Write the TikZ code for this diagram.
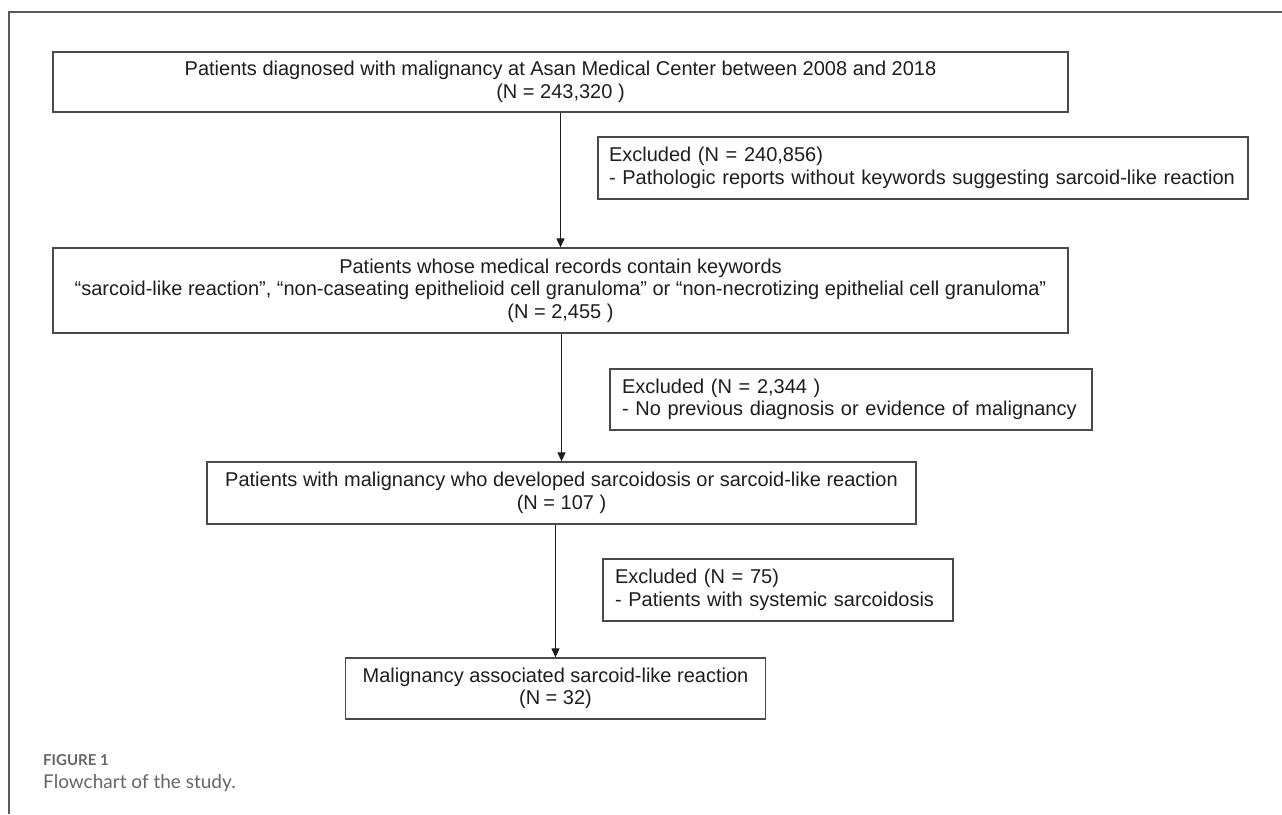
\documentclass[tikz,border=0pt]{standalone}
\usepackage{fontspec}
\setmainfont{Liberation Sans}
\newfontfamily\capfont{Lato}
\usetikzlibrary{arrows.meta}
\definecolor{boxline}{HTML}{4A4A4A}
\definecolor{txt}{HTML}{1E1E1E}
\definecolor{framec}{HTML}{5A5A5A}
\definecolor{capc}{HTML}{666666}
\begin{document}
\begin{tikzpicture}[x=1pt,y=-1pt,
  every node/.style={text=txt},
  mainbox/.style={draw=boxline, line width=1.3pt, inner sep=0pt, align=center,
    font=\fontsize{20}{22.5}\selectfont},
  exclbox/.style={draw=boxline, line width=1.3pt, inner sep=0pt, align=left,
    font=\fontsize{20}{22.5}\selectfont},
  flowarrow/.style={draw=txt, line width=1.1pt, -{Triangle[length=9pt,width=8pt]}}]
\useasboundingbox (0,0) rectangle (1282,814);
\fill[white] (0,0) rectangle (1282,814);
% outer frame
\draw[framec, line width=1.5pt] (1282,12) -- (9,12) -- (9,814);
% main boxes
\node[mainbox, minimum width=1015pt, minimum height=60pt] (b1) at (560.5,82)
  {Patients diagnosed with malignancy at Asan Medical Center between 2008 and 2018\\(N = 243,320 )};
\node[mainbox, minimum width=1015pt, minimum height=85pt] (b2) at (560.5,290.5)
  {Patients whose medical records contain keywords\\“sarcoid-like reaction”, “non-caseating epithelioid cell granuloma” or “non-necrotizing epithelial cell granuloma”\\(N = 2,455 )};
\node[mainbox, minimum width=709pt, minimum height=62pt] (b3) at (561.5,493)
  {Patients with malignancy who developed sarcoidosis or sarcoid-like reaction\\(N = 107 )};
\node[mainbox, minimum width=420pt, minimum height=61pt] (b4) at (555.5,688.5)
  {Malignancy associated sarcoid-like reaction\\(N = 32)};
% exclusion boxes
\node[exclbox, minimum width=650pt, minimum height=62pt, text width=628pt, inner xsep=11pt] (e1) at (923,168)
  {Excluded (N = 240,856)\\- Pathologic reports without keywords suggesting sarcoid-like reaction};
\node[exclbox, minimum width=482pt, minimum height=61pt, text width=458pt, inner xsep=12pt] (e2) at (851,399.5)
  {Excluded (N = 2,344 )\\- No previous diagnosis or evidence of malignancy};
\node[exclbox, minimum width=350pt, minimum height=62pt, text width=326pt, inner xsep=12pt] (e3) at (778,590)
  {Excluded (N = 75)\\- Patients with systemic sarcoidosis};
% arrows
\draw[flowarrow] (b1.south) -- (b2.north);
\draw[flowarrow] (b2.south -| b3.north) -- (b3.north);
\draw[flowarrow] (b3.south -| b4.north) -- (b4.north);
% caption
\node[anchor=west, text=capc, font=\capfont\bfseries\fontsize{15}{18}\selectfont, inner sep=0pt] (fig) at (43,760) {FIGURE 1};
\node[anchor=west, text=capc, font=\capfont\fontsize{19}{22}\selectfont, inner sep=0pt] (cap) at (43,783) {Flowchart of the study.};
\end{tikzpicture}
\end{document}
